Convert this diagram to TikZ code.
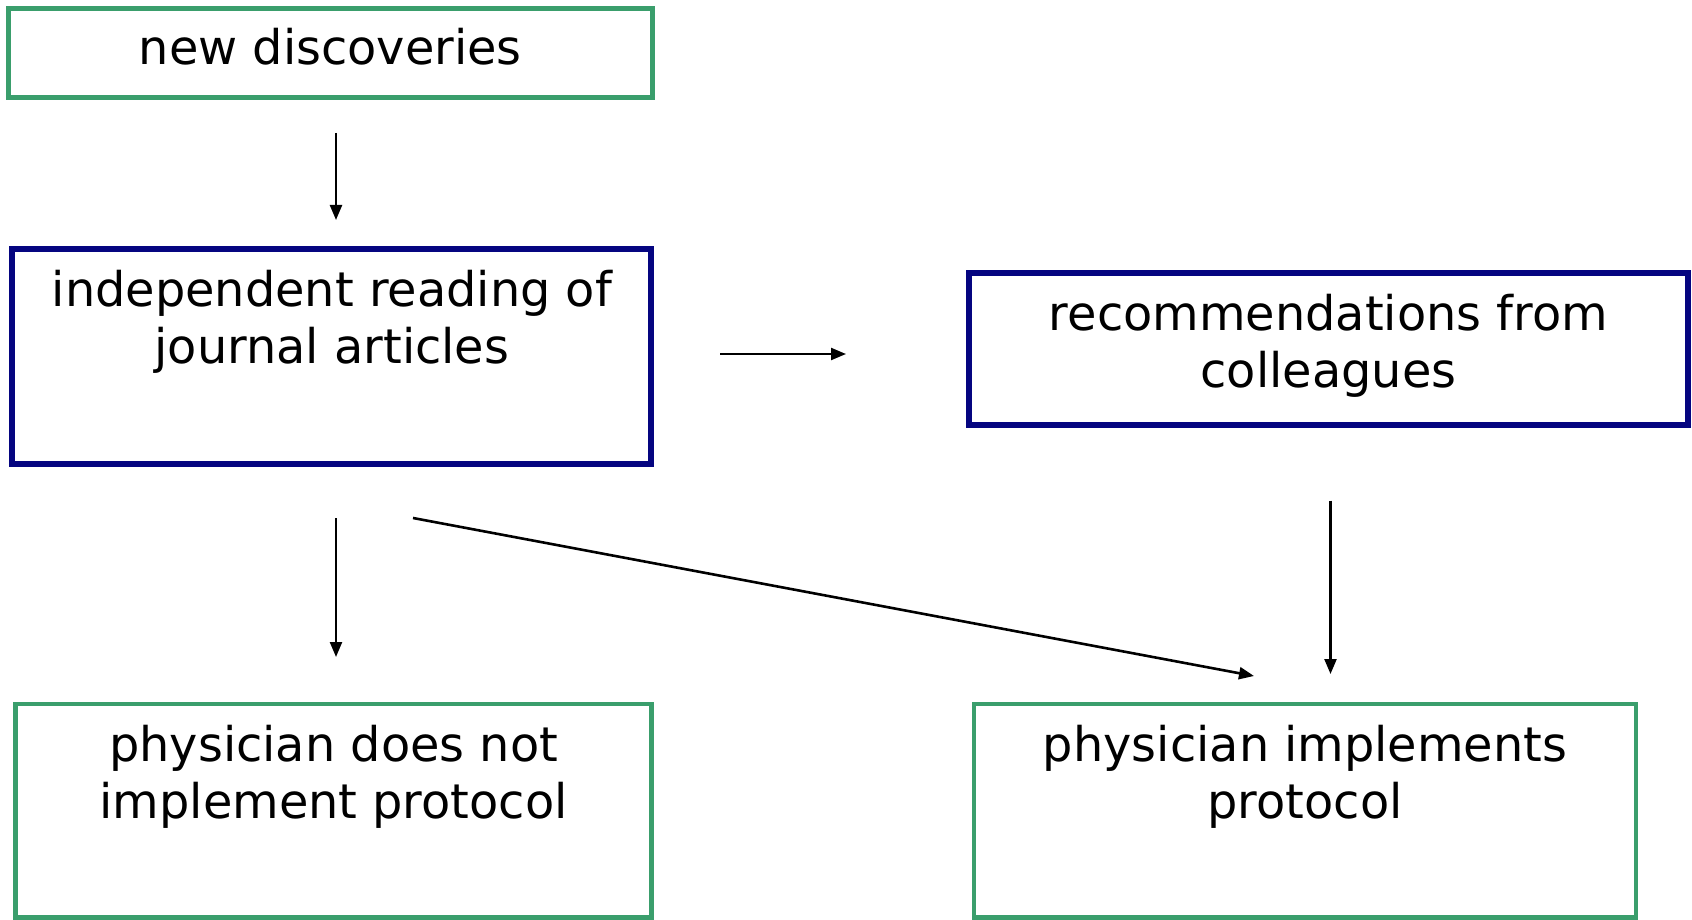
\documentclass[tikz,border=0pt]{standalone}
\usepackage{fontspec}
\setmainfont{DejaVu Sans}
\usetikzlibrary{arrows.meta}
\definecolor{boxgreen}{RGB}{58,158,108}
\definecolor{boxnavy}{RGB}{5,5,128}
\tikzset{
  greenbox/.style={draw=boxgreen, line width=4.6pt, rectangle, inner sep=0pt, fill=white},
  navybox/.style={draw=boxnavy, line width=6pt, rectangle, inner sep=0pt, fill=white},
  boxtext/.style={anchor=base, align=center, inner sep=0pt, font=\fontsize{47.8}{57}\selectfont},
  conn/.style={line width=2.3pt, -{Triangle[length=15pt,width=12pt]}},
}
\begin{document}
\begin{tikzpicture}[x=1pt,y=-1pt]
\useasboundingbox[fill=white] (0,0) rectangle (1692,920);
% boxes
\node[greenbox, minimum width=644pt, minimum height=89pt] (b1) at (330.4,52.9) {};
\node[navybox, minimum width=639pt, minimum height=215pt] (b2) at (331.9,356.3) {};
\node[navybox, minimum width=719pt, minimum height=152.5pt] (b3) at (1328.4,349.2) {};
\node[greenbox, minimum width=636pt, minimum height=213.5pt] (b4) at (333.6,810.7) {};
\node[greenbox, minimum width=662pt, minimum height=213.5pt] (b5) at (1305.1,810.7) {};
% texts (anchor base = baseline of the last line)
\node[boxtext] (t1) at (330.4,65) {new discoveries};
\node[boxtext] (t2) at (331.9,363.5) {independent reading of\\journal articles};
\node[boxtext] (t3) at (1328.4,387) {recommendations from\\colleagues};
\node[boxtext] (t4) at (333.6,818) {physician does not\\implement protocol};
\node[boxtext] (t5) at (1305.1,818) {physician implements\\protocol};
% connector end points
\coordinate (a1s) at (336,133);
\coordinate (a1e) at (336,220);
\coordinate (a2s) at (720,354);
\coordinate (a2e) at (846,354);
\coordinate (a3s) at (336,518);
\coordinate (a3e) at (336,657);
\coordinate (a4s) at (413,518);
\coordinate (a4e) at (1254,676);
\coordinate (a5s) at (1330.5,500.5);
\coordinate (a5e) at (1330.5,674);
% connectors
\draw[conn] (a1s) -- (a1e);
\draw[conn] (a2s) -- (a2e);
\draw[conn] (a3s) -- (a3e);
\draw[conn, line width=2.6pt] (a4s) -- (a4e);
\draw[conn] (a5s) -- (a5e);
\end{tikzpicture}
\end{document}
